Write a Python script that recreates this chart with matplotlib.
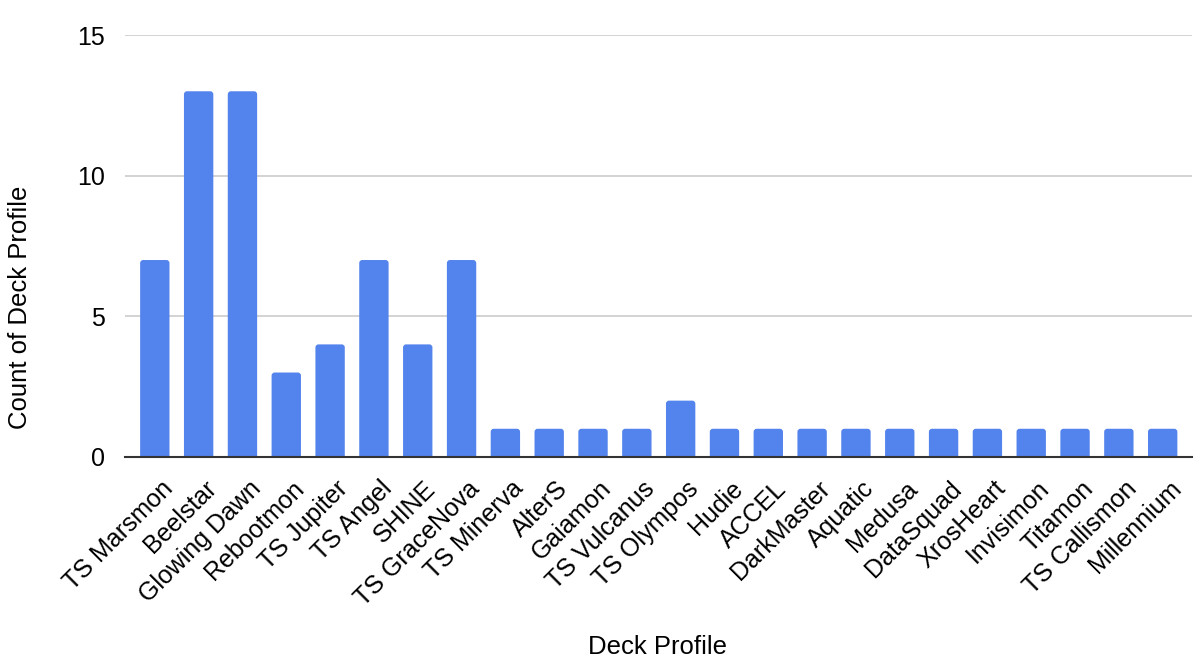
import matplotlib
matplotlib.use("Agg")
import matplotlib.pyplot as plt
from matplotlib.patches import FancyBboxPatch
from matplotlib.transforms import ScaledTranslation

plt.rcParams['font.family'] = ['Liberation Sans', 'DejaVu Sans']

categories = ["TS Marsmon", "Beelstar", "Glowing Dawn", "Rebootmon", "TS Jupiter",
              "TS Angel", "SHINE", "TS GraceNova", "TS Minerva", "AlterS", "Gaiamon",
              "TS Vulcanus", "TS Olympos", "Hudie", "ACCEL", "DarkMaster", "Aquatic",
              "Medusa", "DataSquad", "XrosHeart", "Invisimon", "Titamon",
              "TS Callismon", "Millennium"]
counts = [7, 13, 13, 3, 4, 7, 4, 7, 1, 1, 1, 1, 2, 1, 1, 1, 1, 1, 1, 1, 1, 1, 1, 1]
yticks = [0, 5, 10, 15]

fig = plt.figure(figsize=(12, 6.67), dpi=100)
ax = fig.add_axes([0.104, 0.315, 0.889, 0.6325])

color = "#5383EC"
bars = ax.bar(range(len(categories)), counts, width=0.67, color=color, zorder=3)
ax.set_xlim(-0.685, len(categories) - 1 + 0.66)
ax.set_ylim(0, 15)

# rounded tops
aspect = (15 / (0.6325 * 667)) / ((len(categories) - 1 + 0.66 + 0.685) / (0.889 * 1200))
for b in bars:
    b.set_visible(False)
    x, y, w, h = b.get_x(), b.get_y(), b.get_width(), b.get_height()
    p = FancyBboxPatch((x, y - 0.3), w, h + 0.3,
                       boxstyle="round,pad=0,rounding_size=0.07",
                       mutation_aspect=aspect, facecolor=color, edgecolor="none",
                       zorder=3, clip_on=True)
    ax.add_patch(p)

ax.set_yticks(yticks)
ax.set_yticklabels([str(t) for t in yticks], fontsize=18)
ax.set_xticks(range(len(categories)))
ax.set_xticklabels(categories, rotation=45, ha="right", rotation_mode="anchor", fontsize=18)
ax.tick_params(axis="both", length=0)
ax.tick_params(axis="y", pad=14)
ax.tick_params(axis="x", pad=14)
for lbl in ax.get_xticklabels():
    lbl.set_transform(lbl.get_transform() + ScaledTranslation(0.06, 0, fig.dpi_scale_trans))

ax.grid(axis="y", color="#cccccc", linewidth=1.2, zorder=0)
for s in ["top", "right", "left"]:
    ax.spines[s].set_visible(False)
ax.spines["bottom"].set_color("#333333")
ax.spines["bottom"].set_linewidth(1.5)
ax.spines["bottom"].set_zorder(4)

fig.text(0.017, 0.54, "Count of Deck Profile", ha="center", va="center",
         rotation=90, fontsize=18.5)
fig.text(0.548, 0.03, "Deck Profile", ha="center", va="center", fontsize=18.5)

fig.savefig("out.png", dpi=100, facecolor="white")
